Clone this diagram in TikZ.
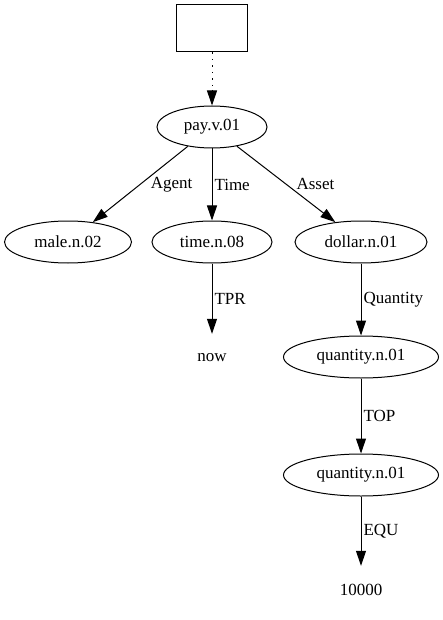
\documentclass[tikz,border=0pt]{standalone}
\usepackage{fontspec}
\setmainfont{Liberation Serif}
\usetikzlibrary{shapes.geometric,arrows.meta}

\begin{document}
\begin{tikzpicture}[x=1pt,y=-1pt,
  every node/.style={font=\rmfamily\fontsize{17}{20}\selectfont},
  ell/.style={ellipse, draw, line width=1pt, minimum height=42pt, inner sep=0pt},
  txt/.style={minimum height=48pt, inner sep=0pt},
  lbl/.style={midway, anchor=west, inner sep=0pt},
  arr/.style={line width=1pt, -{Triangle[length=15pt,width=10pt]}}]
\useasboundingbox (0,0) rectangle (443,620);
\node[draw, line width=1pt, minimum width=71pt, minimum height=47pt] (box) at (212,28.5){};
\node[ell, minimum width=110pt] (pay) at (212,127){pay.v.01};
\coordinate (dotend) at (212,90);
\draw[line width=1pt, dash pattern=on 1.5pt off 5pt](box) -- (dotend);
\draw[arr](dotend) -- (pay);
\node[ell, minimum width=127pt] (male) at (68,242){male.n.02};
\node[ell, minimum width=120pt] (time) at (212,242){time.n.08};
\node[ell, minimum width=132pt] (dollar) at (361,242){dollar.n.01};
\draw[arr](pay) -- (male) node[lbl, xshift=10pt]{Agent};
\draw[arr](pay) -- (time) node[lbl, xshift=2pt]{Time};
\draw[arr](pay) -- (dollar) node[lbl, xshift=10pt]{Asset};
\node[txt] (now) at (212,358){now};
\draw[arr](time) -- (now) node[lbl, xshift=2pt]{TPR};
\node[ell, minimum width=155pt] (qty1) at (361,357){quantity.n.01};
\draw[arr](dollar) -- (qty1) node[lbl, xshift=2pt]{Quantity};
\node[ell, minimum width=155pt] (qty2) at (361,475){quantity.n.01};
\draw[arr](qty1) -- (qty2) node[lbl, xshift=2pt]{TOP};
\node[txt] (num) at (361,590){10000};
\draw[arr](qty2) -- (num) node[lbl, xshift=2pt]{EQU};

\end{tikzpicture}
\end{document}
